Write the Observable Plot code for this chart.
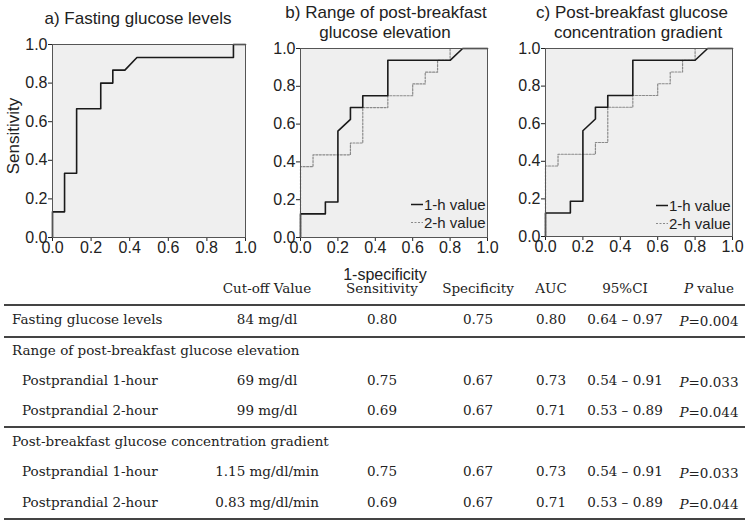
<!DOCTYPE html>
<html>
<head>
<meta charset="utf-8">
<script src="https://cdn.jsdelivr.net/npm/d3@7"></script>
<script src="https://cdn.jsdelivr.net/npm/@observablehq/plot@0.6"></script>
<style>
  body { margin: 0; background: #fff; }
  #root { position: relative; width: 750px; height: 523px; overflow: hidden; background: #fff;
          font-family: "Liberation Sans", Arial, sans-serif; color: #222; }
  .abs { position: absolute; white-space: nowrap; }
  .ttl { font-size: 17px; transform: translate(-50%, -50%); line-height: 1; }
  .tbl { font-family: "DejaVu Serif", serif; font-size: 13.5px; color: #222; line-height: 1; }
  .ctr { transform: translate(-50%, -50%); }
  .lft { transform: translate(0, -50%); }
  .hr { position: absolute; height: 1.6px; background: #444; }
  .plotbox { position: absolute; top: 0; }
  .plotbox svg { overflow: visible; }
  .leg { position: absolute; font-size: 15px; line-height: 1; transform: translate(0, -50%); display: flex; align-items: center; }
</style>
</head>
<body>
<div id="root"></div>
<script>
// ---------- Data ----------
const tickValues = [0, 0.2, 0.4, 0.6, 0.8, 1.0];

// Panel a: Fasting glucose levels ROC (1-specificity, sensitivity)
const fastingFpr = [0, 0, 0.0625, 0.0625, 0.125, 0.125, 0.25, 0.25, 0.3125, 0.3125, 0.375, 0.4375, 0.9375, 0.9375, 1];
const fastingTpr = [0, 0.133, 0.133, 0.333, 0.333, 0.667, 0.667, 0.8, 0.8, 0.867, 0.867, 0.933, 0.933, 1, 1];

// Panel b: Range of post-breakfast glucose elevation
const rangeH1Fpr = [0, 0, 0.133, 0.133, 0.2, 0.2, 0.267, 0.267, 0.333, 0.333, 0.467, 0.467, 0.8, 0.867, 1];
const rangeH1Tpr = [0, 0.125, 0.125, 0.1875, 0.1875, 0.5625, 0.625, 0.6875, 0.6875, 0.75, 0.75, 0.9375, 0.9375, 1, 1];
const rangeH2Fpr = [0, 0, 0.067, 0.067, 0.267, 0.267, 0.333, 0.333, 0.467, 0.467, 0.6, 0.6, 0.667, 0.667, 0.733, 0.733, 0.8, 0.8, 1];
const rangeH2Tpr = [0, 0.375, 0.375, 0.4375, 0.4375, 0.5, 0.5, 0.6875, 0.6875, 0.75, 0.75, 0.8125, 0.8125, 0.875, 0.875, 0.9375, 0.9375, 1, 1];

// Panel c: Post-breakfast glucose concentration gradient
const gradH1Fpr = [0, 0, 0.133, 0.133, 0.2, 0.2, 0.267, 0.267, 0.333, 0.333, 0.467, 0.467, 0.8, 0.867, 1];
const gradH1Tpr = [0, 0.125, 0.125, 0.1875, 0.1875, 0.5625, 0.625, 0.6875, 0.6875, 0.75, 0.75, 0.9375, 0.9375, 1, 1];
const gradH2Fpr = [0, 0, 0.067, 0.067, 0.267, 0.267, 0.333, 0.333, 0.467, 0.467, 0.6, 0.6, 0.667, 0.667, 0.733, 0.733, 0.8, 0.8, 1];
const gradH2Tpr = [0, 0.375, 0.375, 0.4375, 0.4375, 0.5, 0.5, 0.6875, 0.6875, 0.75, 0.75, 0.8125, 0.8125, 0.875, 0.875, 0.9375, 0.9375, 1, 1];

const panelTitles = [["a) Fasting glucose levels"], ["b) Range of post-breakfast", "glucose elevation"], ["c) Post-breakfast glucose", "concentration gradient"]];
const legendLabels = ["1-h value", "2-h value"];
const xLabel = "1-specificity";
const yLabel = "Sensitivity";

// Table
const tableHeaders = ["Cut-off Value", "Sensitivity", "Specificity", "AUC", "95%CI", "P value"];
const rowLabels = ["Fasting glucose levels", "Range of post-breakfast glucose elevation", "Postprandial 1-hour", "Postprandial 2-hour",
                   "Post-breakfast glucose concentration gradient", "Postprandial 1-hour", "Postprandial 2-hour"];
const rowKinds = ["item", "group", "sub", "sub", "group", "sub", "sub"];
const cutoffs = ["84 mg/dl", "", "69 mg/dl", "99 mg/dl", "", "1.15 mg/dl/min", "0.83 mg/dl/min"];
const sensitivities = ["0.80", "", "0.75", "0.69", "", "0.75", "0.69"];
const specificities = ["0.75", "", "0.67", "0.67", "", "0.67", "0.67"];
const aucs = ["0.80", "", "0.73", "0.71", "", "0.73", "0.71"];
const cis = ["0.64 – 0.97", "", "0.54 – 0.91", "0.53 – 0.89", "", "0.54 – 0.91", "0.53 – 0.89"];
const pValues = ["0.004", "", "0.033", "0.044", "", "0.033", "0.044"];

// ---------- Build ----------
const root = document.getElementById("root");
const zip = (xs, ys) => xs.map((x, i) => ({x, y: ys[i]}));

function panel(seriesList, layout) {
  const marks = [
    Plot.frame({fill: "#efefef", stroke: null}),
    Plot.axisX({ticks: tickValues, tickFormat: d => d.toFixed(1), tickSize: 4, tickPadding: 0, label: null, fontSize: 16}),
    Plot.axisY({ticks: tickValues, tickFormat: d => d.toFixed(1), tickSize: 4, tickPadding: 1, label: null, fontSize: 16}),
  ];
  for (const s of seriesList) {
    marks.push(Plot.line(s.data, {x: "x", y: "y", stroke: s.stroke, strokeWidth: s.width, strokeDasharray: s.dash, curve: "linear"}));
  }
  marks.push(Plot.frame({stroke: "#555", strokeWidth: 1}));
  const svg = Plot.plot({
    width: layout.width, height: layout.height,
    marginLeft: layout.ml, marginRight: layout.mr, marginTop: layout.mt, marginBottom: layout.mb,
    x: {domain: [0, 1]}, y: {domain: [0, 1]},
    style: {fontFamily: "Liberation Sans, Arial, sans-serif", fontSize: "16px", color: "#222", background: "transparent", overflow: "visible"},
    marks
  });
  const box = document.createElement("div");
  box.className = "plotbox";
  box.style.left = layout.left + "px";
  box.appendChild(svg);
  root.appendChild(box);
}

const solid = {stroke: "#1a1a1a", width: 1.6, dash: null};
const dotted = {stroke: "#8a8a8a", width: 1.2, dash: "2,1.5"};

panel([{data: zip(fastingFpr, fastingTpr), ...solid}],
      {left: 0, width: 250, height: 265, ml: 52, mr: 5, mt: 44, mb: 28});
panel([{data: zip(rangeH2Fpr, rangeH2Tpr), ...dotted}, {data: zip(rangeH1Fpr, rangeH1Tpr), ...solid}],
      {left: 250, width: 250, height: 265, ml: 50, mr: 13, mt: 48, mb: 28});
panel([{data: zip(gradH2Fpr, gradH2Tpr), ...dotted}, {data: zip(gradH1Fpr, gradH1Tpr), ...solid}],
      {left: 500, width: 250, height: 265, ml: 45, mr: 18, mt: 48, mb: 29});

function addText(text, cls, left, top, extraStyle) {
  const d = document.createElement("div");
  d.className = "abs " + cls;
  d.style.left = left + "px";
  d.style.top = top + "px";
  if (extraStyle) Object.assign(d.style, extraStyle);
  d.textContent = text;
  root.appendChild(d);
  return d;
}

// Titles
const titlePos = [[[138, 18]], [[386, 12], [385, 32]], [[632, 12], [638, 32]]];
panelTitles.forEach((lines, i) => lines.forEach((t, j) => addText(t, "ttl", titlePos[i][j][0], titlePos[i][j][1])));

// Axis labels
addText(yLabel, "", 13, 136, {fontSize: "17px", transform: "translate(-50%, -50%) rotate(-90deg)", lineHeight: "1"});
addText(xLabel, "", 385, 275, {fontSize: "16px", transform: "translate(-50%, -50%)", lineHeight: "1"});

// Legends (panels b and c)
const legendPos = [[411, 204], [656, 205]];
legendPos.forEach(([lx, ly]) => {
  legendLabels.forEach((lab, k) => {
    const d = document.createElement("div");
    d.className = "leg";
    d.style.left = lx + "px";
    d.style.top = (ly + k * 18) + "px";
    const st = k === 0 ? solid : dotted;
    d.innerHTML = `<svg width="12" height="4" style="margin-right:1px"><line x1="0" x2="12" y1="2" y2="2" stroke="${st.stroke}" stroke-width="${st.width}" ${st.dash ? `stroke-dasharray="${st.dash}"` : ""}/></svg><span>${lab}</span>`;
    root.appendChild(d);
  });
});

// Table
const colCenters = [267, 382, 478, 551, 625, 709];
const headerY = 289;
tableHeaders.forEach((h, i) => {
  if (i === 5) {
    const d = addText("", "tbl ctr", colCenters[i], headerY);
    d.innerHTML = `<i>P</i> value`;
  } else addText(h, "tbl ctr", colCenters[i], headerY);
});
const rowY = [320, 351, 381, 411, 442, 472, 503];
rowLabels.forEach((lab, r) => {
  const y = rowY[r];
  addText(lab, "tbl lft", rowKinds[r] === "sub" ? 22 : 12, y);
  const vals = [cutoffs[r], sensitivities[r], specificities[r], aucs[r], cis[r]];
  vals.forEach((v, c) => { if (v) addText(v, "tbl ctr", colCenters[c], y); });
  if (pValues[r]) {
    const d = addText("", "tbl ctr", colCenters[5], y + 2);
    d.innerHTML = `<i>P</i>=${pValues[r]}`;
  }
});
[305, 337, 427, 519].forEach(y => {
  const l = document.createElement("div");
  l.className = "hr";
  l.style.left = "4px"; l.style.width = "741px"; l.style.top = (y - 0.8) + "px";
  root.appendChild(l);
});
</script>
</body>
</html>
